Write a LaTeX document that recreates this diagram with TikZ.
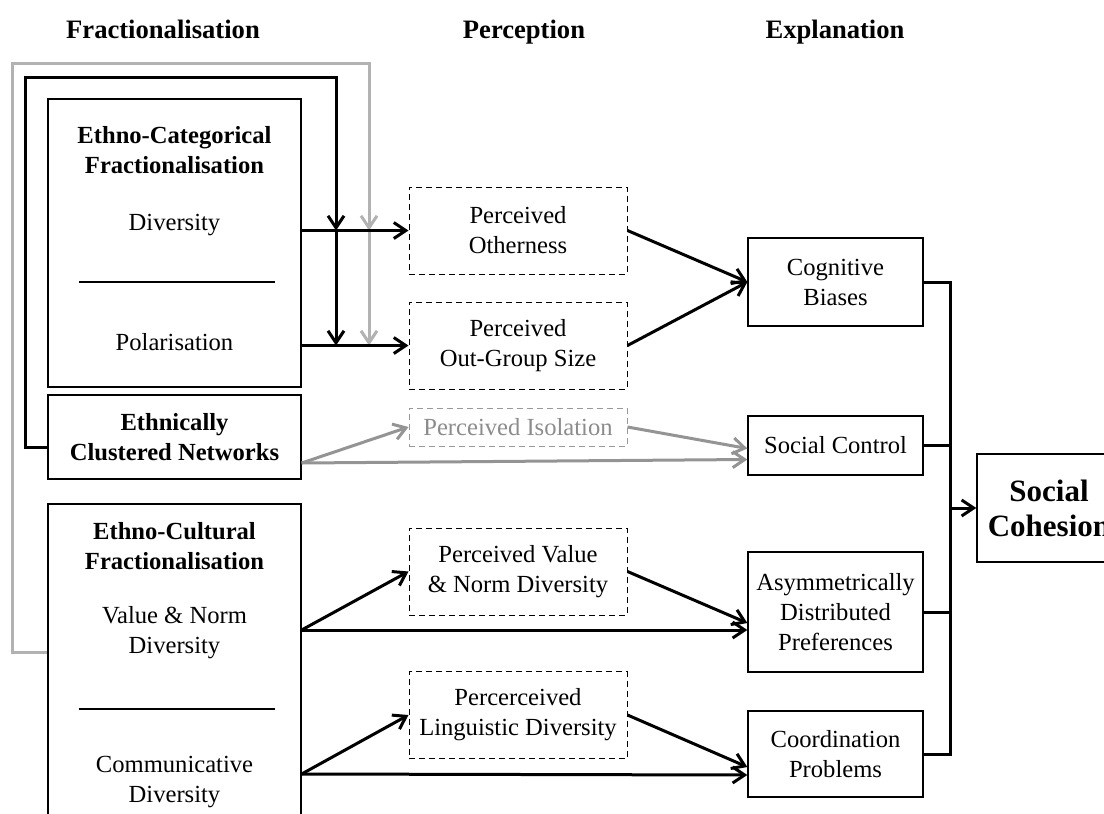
\documentclass[tikz,border=0pt]{standalone}
\usepackage{fontspec}
\setmainfont{Liberation Serif}
\usetikzlibrary{calc, positioning, arrows.meta}

\newcommand{\bodysize}{\fontsize{12.3}{15}\selectfont}

\begin{document}
\begin{tikzpicture}[x=0.5pt, y=-0.5pt, font=\bodysize,
	>={Straight Barb[length=6pt, width=8pt]},
	heading/.style={font=\fontsize{13.3}{16}\selectfont\bfseries, anchor=base},
	bold/.style={font=\bodysize\bfseries},
	frac/.style={draw, line width=0.65pt, minimum width=126.5pt, inner sep=0pt, align=center},
	perc/.style={draw, dash pattern=on 3pt off 2pt, line width=0.5pt, minimum width=109pt, minimum height=43.5pt, inner sep=0pt, align=center},
	expl/.style={draw, line width=0.65pt, minimum width=87.5pt, inner sep=0pt, align=center},
	flow/.style={->, line width=1.5pt},
	lightflow/.style={flow, draw=black!30},
	isoflow/.style={flow, draw=black!42}]
	\useasboundingbox (0,0) rectangle (1104,814);
	
	% column headings
	\node[heading] (hFrac) at (163,38) {Fractionalisation};
	\node[heading] (hPerc) at (524,38) {Perception};
	\node[heading] (hExpl) at (835,38) {Explanation};
	
	% fractionalisation
	\node[frac, minimum height=144pt] (catBox) at (174.5,243) {};
	\node[bold, align=center] (catTitle) at (174.5,150) {Ethno-Categorical\\Fractionalisation};
	\node (catDiv) at (174.5,225) {Diversity};
	\draw[line width=0.65pt] (79,282) -- (275,282);
	\node (catPol) at (174.5,342) {Polarisation};
	
	\node[frac, minimum height=42pt, bold] (netBox) at (174.5,437) {Ethnically\\Clustered Networks};
	
	\node[frac, minimum height=165pt] (culBox) at (174.5,669) {};
	\node[bold, align=center] (culTitle) at (174.5,546) {Ethno-Cultural\\Fractionalisation};
	\node[align=center] (culVal) at (174.5,633) {Value \& Norm\\Diversity};
	\draw[line width=0.65pt] (79,709) -- (275,709);
	\node[align=center] (culCom) at (174.5,782) {Communicative\\Diversity};
	
	% perception
	\node[perc] (perOth) at (518,230.5) {Perceived\\Otherness};
	\node[perc] (perOut) at (518,345.5) {Perceived\\Out-Group Size};
	\node[perc, draw=black!40, text=black!45, minimum height=19pt] (perIso) at (518,427) {Perceived Isolation};
	\node[perc] (perVal) at (518,571.5) {Perceived Value\\\& Norm Diversity};
	\node[perc] (perLin) at (518,715) {Percerceived\\Linguistic Diversity};
	
	% explanation
	\node[expl, minimum height=44pt] (cogBias) at (835.5,282) {Cognitive\\Biases};
	\node[expl, minimum height=29.5pt] (socCtrl) at (835.5,445.5) {Social Control};
	\node[expl, minimum height=60pt] (asymPref) at (835.5,612) {Asymmetrically\\Distributed\\Preferences};
	\node[expl, minimum height=43pt] (coordProb) at (835.5,754) {Coordination\\Problems};
	
	\node[expl, minimum width=72pt, minimum height=54pt, font=\fontsize{15.5}{17.5}\selectfont\bfseries] (socCoh) at (1049,508) {Social\\Cohesion};
	
	% feedback frames
	\coordinate (divOut) at (catBox.east |- perOth.west);
	\coordinate (polOut) at (catBox.east |- perOut.west);
	\coordinate (blkDrop) at (336,0);
	\coordinate (grayDrop) at (369,0);
	\draw[lightflow] (culBox.west |- 0,652) -| (12,63) -| (grayDrop |- divOut);
	\draw[lightflow] (grayDrop |- divOut) -- (grayDrop |- polOut);
	\draw[flow] ($(netBox.west)+(0,10)$) -| (25,77) -| (blkDrop |- divOut);
	\draw[flow] (blkDrop |- divOut) -- (blkDrop |- polOut);
	
	% links to perception
	\draw[flow] (divOut) -- (perOth.west);
	\draw[flow] (polOut) -- (perOut.west);
	
	\coordinate (netOut) at ($(netBox.east)+(0,26)$);
	\draw[isoflow] (netOut) -- (perIso.west);
	\draw[isoflow] (netOut) -- ($(socCtrl.west)+(0,14)$);
	\draw[isoflow] (perIso.east) -- ($(socCtrl.west)+(0,3)$);
	
	\coordinate (valOut) at (culBox.east |- 0,630);
	\coordinate (comOut) at (culBox.east |- 0,774);
	\draw[flow] (valOut) -- (perVal.west);
	\draw[flow] (valOut) -- ($(asymPref.west)+(0,18)$);
	\draw[flow] (comOut) -- (perLin.west);
	\draw[flow] (comOut) -- ($(coordProb.west)+(0,21)$);
	
	% links to explanation
	\draw[flow] (perOth.east) -- (cogBias.west);
	\draw[flow] (perOut.east) -- (cogBias.west);
	\draw[flow] (perVal.east) -- ($(asymPref.west)+(0,11)$);
	\draw[flow] (perLin.east) -- ($(coordProb.west)+(0,13)$);
	
	% to social cohesion
	\coordinate (busX) at (950,0);
	\draw[line width=1.5pt] (cogBias.east) -- (busX |- cogBias.east) -- (busX |- coordProb.east) -- (coordProb.east);
	\draw[line width=1.5pt] (socCtrl.east) -- (busX |- socCtrl.east);
	\draw[line width=1.5pt] (asymPref.east) -- (busX |- asymPref.east);
	\draw[flow] (busX |- socCoh.west) -- (socCoh.west);
\end{tikzpicture}
\end{document}
